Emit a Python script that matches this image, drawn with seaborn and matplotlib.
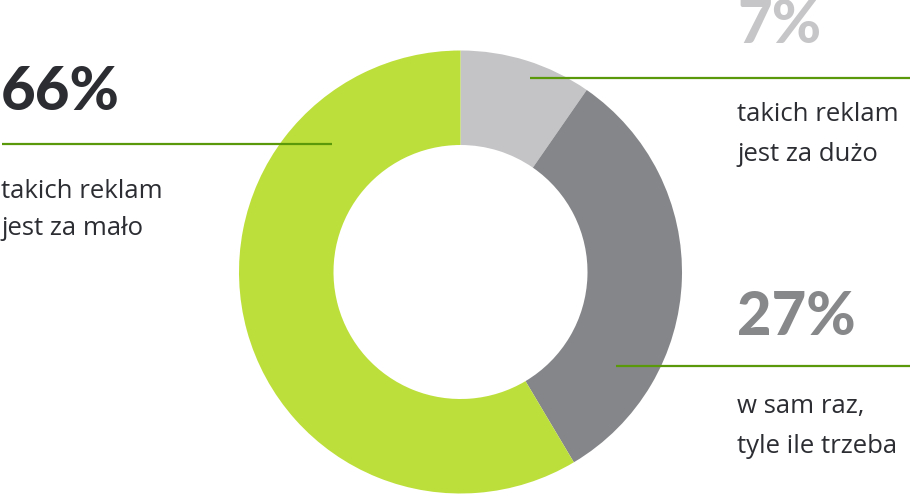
import matplotlib
matplotlib.use("Agg")
import matplotlib.pyplot as plt
import seaborn as sns

# ---- data ----
categories = ["takich reklam jest za dużo", "w sam raz, tyle ile trzeba", "takich reklam jest za mało"]
label_values = ["7%", "27%", "66%"]
wedge_shares = [9.65, 31.8, 58.55]   # angular shares as drawn in the picture
slice_colors = ["#c4c4c6", "#858689", "#bddf3b"]
number_colors = ["#c6c6c8", "#87888a", "#2b2d33"]
desc_lines = [["takich reklam", "jest za dużo"],
              ["w sam raz,", "tyle ile trzeba"],
              ["takich reklam", "jest za mało"]]

sns.set_theme(style="white")
plt.rcParams["font.family"] = ["Lato", "DejaVu Sans"]

W, H = 910, 499
fig = plt.figure(figsize=(W / 100, H / 100), dpi=100)
ax = fig.add_axes([0, 0, 1, 1])

cx, cy = 460.5, H - 272
R_out, R_in = 221.5, 127
ax.pie(wedge_shares, colors=slice_colors, startangle=90, counterclock=False,
       radius=R_out, center=(cx, cy),
       wedgeprops=dict(width=R_out - R_in, linewidth=0))
ax.set_xlim(0, W)
ax.set_ylim(0, H)
ax.set_aspect("auto")
ax.axis("off")

line_color = "#5a9a0a"
# layout for each label block: (x_text, number_baseline, line_y, line_x0, line_x1, desc_baseline1, line_gap)
blocks = [
    (737, 43, 78, 530, 910, 121, 40),
    (737, 335, 366, 616, 910, 413, 40),
    (1, 110, 144, 2, 332, 198, 37),
]
for (xt, nb, ly, lx0, lx1, db, gap), num, ncol, lines in zip(blocks, label_values, number_colors, desc_lines):
    ax.text(xt, H - nb, num, color=ncol, fontsize=43, fontweight="black",
            ha="left", va="baseline")
    ax.plot([lx0, lx1], [H - ly, H - ly], color=line_color, lw=1.6, solid_capstyle="butt")
    for i, t in enumerate(lines):
        ax.text(xt, H - (db + i * gap), t, color="#2b2d33", fontsize=18.5,
                family=["Open Sans", "DejaVu Sans"],
                ha="left", va="baseline")

fig.savefig("out.png", dpi=100)
